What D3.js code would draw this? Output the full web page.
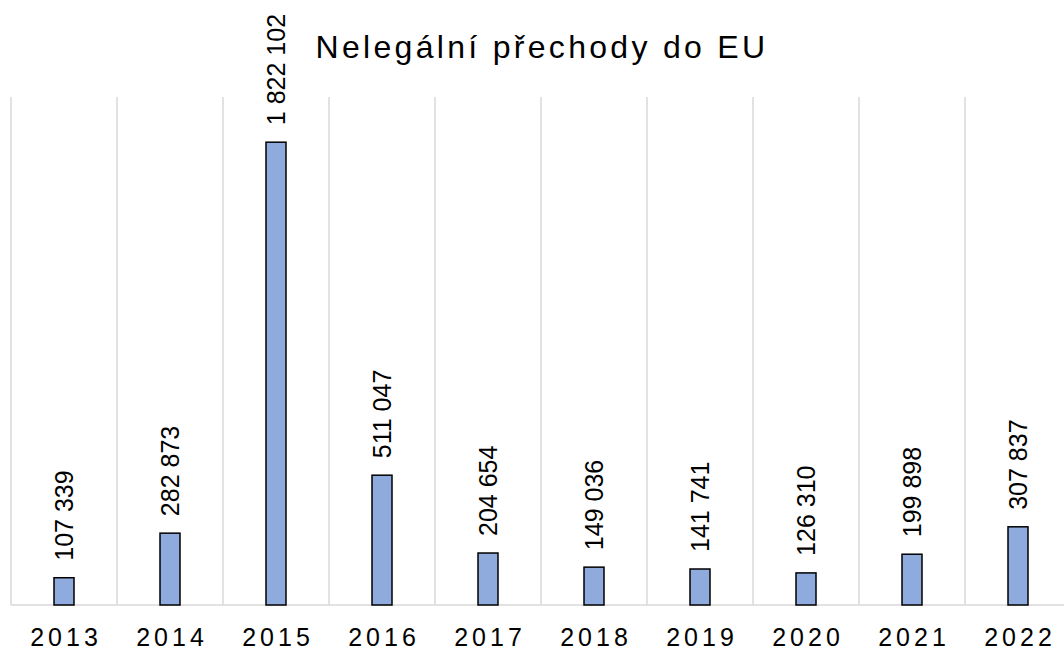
<!DOCTYPE html>
<html>
<head>
<meta charset="utf-8">
<script src="https://cdn.jsdelivr.net/npm/d3@7"></script>
<style>
  body { margin: 0; background: #fff; }
  text { font-family: "Liberation Sans", Arial, sans-serif; fill: #000; }
</style>
</head>
<body>
<svg width="1064" height="650"></svg>
<script>
// data
const years = ["2013", "2014", "2015", "2016", "2017", "2018", "2019", "2020", "2021", "2022"];
const crossings = [107339, 282873, 1822102, 511047, 204654, 149036, 141741, 126310, 199898, 307837];
const yDomain = [0, 2000000];
const title = "Nelegální přechody do EU";

let svg = d3.select("svg");

const plot = { left: 11, right: 1071, top: 97, bottom: 605 };

let x = d3.scaleBand().domain(years).range([plot.left, plot.right]).padding(0);
let y = d3.scaleLinear().domain(yDomain).range([plot.bottom, plot.top]);

const barW = 20;
const fmt = d3.formatLocale({ decimal: ",", thousands: " ", grouping: [3], currency: ["", ""] }).format(",d");

// vertical gridlines at category edges
let edges = years.map(d => x(d)).concat([plot.right]);
svg.append("g")
  .selectAll("line")
  .data(edges)
  .enter()
  .append("line")
  .attr("x1", d => d).attr("x2", d => d)
  .attr("y1", plot.top).attr("y2", plot.bottom)
  .style("stroke", "#d9d9d9")
  .attr("stroke-width", 1.5);

// baseline
svg.append("line")
  .attr("x1", plot.left).attr("x2", plot.right)
  .attr("y1", y(0)).attr("y2", y(0))
  .style("stroke", "#d9d9d9")
  .attr("stroke-width", 1.5);

let data = years.map((yr, i) => ({ year: yr, value: crossings[i] }));

// bars
svg.append("g")
  .selectAll("rect")
  .data(data)
  .enter()
  .append("rect")
  .attr("x", d => x(d.year) + x.bandwidth() / 2 - barW / 2)
  .attr("y", d => y(d.value))
  .attr("width", barW)
  .attr("height", d => y(0) - y(d.value))
  .attr("fill", "#8faadc")
  .attr("stroke", "#000")
  .attr("stroke-width", 1.5);

// value labels, rotated
svg.append("g")
  .selectAll("text")
  .data(data)
  .enter()
  .append("text")
  .attr("transform", d => `translate(${x(d.year) + x.bandwidth() / 2},${y(d.value) - 17}) rotate(-90)`)
  .attr("dy", "0.36em")
  .attr("text-anchor", "start")
  .style("font-size", "25px")
  .text(d => fmt(d.value));

// category axis labels
svg.append("g")
  .selectAll("text")
  .data(years)
  .enter()
  .append("text")
  .attr("x", d => x(d) + x.bandwidth() / 2 + 2)
  .attr("y", 646)
  .attr("text-anchor", "middle")
  .style("font-size", "25px")
  .style("letter-spacing", "4px")
  .text(d => d);

// title
svg.append("text")
  .attr("x", 542)
  .attr("y", 58)
  .attr("text-anchor", "middle")
  .style("font-size", "32px")
  .style("letter-spacing", "3.3px")
  .text(title);
</script>
</body>
</html>
